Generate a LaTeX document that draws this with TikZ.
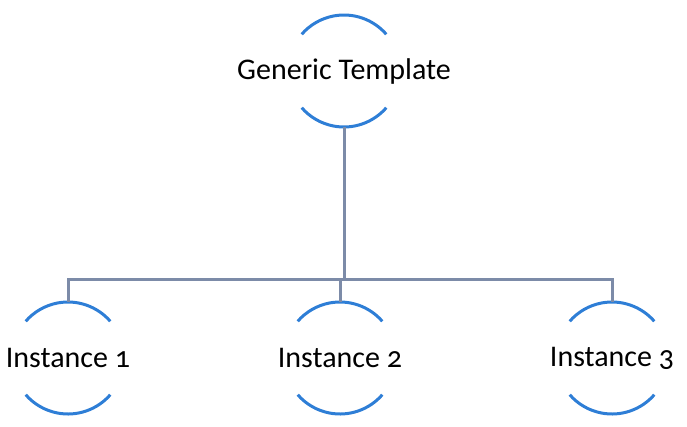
\documentclass[tikz,border=0pt]{standalone}
\usepackage{fontspec}
\setmainfont{Carlito}[Numbers=OldStyle]
\definecolor{arcblue}{RGB}{46,126,214}
\definecolor{linkgray}{RGB}{124,139,168}
\begin{document}
\begin{tikzpicture}[x=1pt,y=-1pt,
  ring/.style={rectangle,inner sep=0pt,minimum width=112pt,minimum height=112pt,font=\fontsize{30}{32}\selectfont},
  ringarc/.style={draw=arcblue,line width=3pt},
  link/.style={draw=linkgray,line width=3pt}]
\useasboundingbox (0,0) rectangle (687,426);
\node[ring] (gt) at (344,71) {Generic Template};
\node[ring] (i1) at (68,358) {Instance 1};
\node[ring] (i2) at (340,358) {Instance 2};
\node[ring] (i3) at (612,358) {Instance 3};
\foreach \n in {gt,i1,i2,i3}{
  \draw[ringarc] ([shift={(41:56pt)}]\n.center) arc[start angle=41,end angle=139,radius=56pt];
  \draw[ringarc] ([shift={(-41:56pt)}]\n.center) arc[start angle=-41,end angle=-139,radius=56pt];
}
\coordinate (bus) at (344,279);
\draw[link] (gt.south) -- (bus);
\draw[link] (i1.north) -- (i1.north |- bus) -- (i3.north |- bus) -- (i3.north);
\draw[link] (i2.north) -- (i2.north |- bus);
\end{tikzpicture}
\end{document}
